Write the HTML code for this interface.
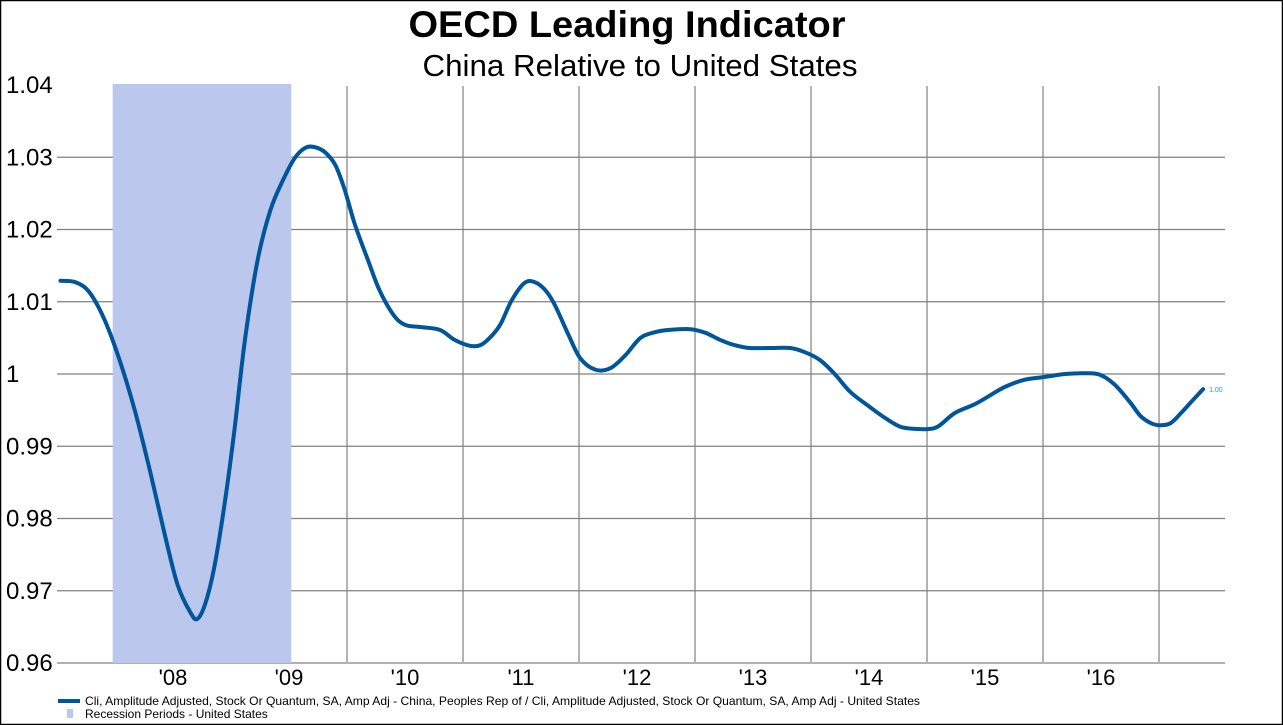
<!DOCTYPE html>
<html><head><meta charset="utf-8"><style>
body{margin:0;background:#fff}
svg{display:block;font-family:"Liberation Sans",Arial,sans-serif}
</style></head><body>
<svg id="chart" width="1283" height="725">
<rect x="0.5" y="0.5" width="1282" height="724" fill="#fff" stroke="#000" stroke-width="1.5"/>
<text x="627" y="37" text-anchor="middle" font-size="37" font-weight="bold" textLength="437" lengthAdjust="spacingAndGlyphs">OECD Leading Indicator</text>
<text x="640" y="76" text-anchor="middle" font-size="31" textLength="435" lengthAdjust="spacingAndGlyphs">China Relative to United States</text>
<g id="grid"></g>
<g id="rec"></g>
<g id="yt"></g>
<g id="xt"></g>
<g id="series"></g>
<g>
<rect x="58" y="699" width="22" height="4" fill="#00559b"/>
<text x="85" y="705" font-size="12" textLength="835" lengthAdjust="spacingAndGlyphs">Cli, Amplitude Adjusted, Stock Or Quantum, SA, Amp Adj - China, Peoples Rep of / Cli, Amplitude Adjusted, Stock Or Quantum, SA, Amp Adj - United States</text>
<rect x="67" y="709" width="6" height="9" fill="#bbc7ec"/>
<text x="85" y="718" font-size="12">Recession Periods - United States</text>
</g>
</svg>
<script>
const dates=[2007.53,2007.66,2007.78,2007.91,2008.04,2008.17,2008.30,2008.43,2008.54,2008.65,2008.71,2008.78,2008.86,2008.95,2009.03,2009.12,2009.23,2009.34,2009.45,2009.55,2009.64,2009.72,2009.81,2009.90,2009.98,2010.07,2010.18,2010.28,2010.40,2010.50,2010.63,2010.80,2010.93,2011.06,2011.15,2011.23,2011.32,2011.42,2011.53,2011.62,2011.71,2011.79,2011.91,2012.01,2012.14,2012.27,2012.40,2012.53,2012.66,2012.78,2012.96,2013.09,2013.22,2013.34,2013.47,2013.65,2013.82,2013.95,2014.08,2014.21,2014.34,2014.51,2014.64,2014.77,2014.90,2015.03,2015.11,2015.24,2015.41,2015.54,2015.67,2015.84,2016.02,2016.19,2016.36,2016.49,2016.62,2016.75,2016.84,2016.93,2017.01,2017.10,2017.19,2017.27,2017.38];
const values=[1.0129,1.0127,1.0113,1.0075,1.0019,0.9950,0.9867,0.9777,0.9708,0.9670,0.9661,0.9683,0.9736,0.9826,0.9923,1.0047,1.0158,1.0227,1.0269,1.0299,1.0313,1.0314,1.0307,1.0289,1.0255,1.0206,1.0158,1.0116,1.0082,1.0068,1.0065,1.0061,1.0047,1.0039,1.0040,1.0050,1.0068,1.0102,1.0126,1.0127,1.0116,1.0096,1.0054,1.0022,1.0006,1.0008,1.0026,1.0050,1.0058,1.0061,1.0062,1.0057,1.0047,1.0040,1.0036,1.0036,1.0036,1.0030,1.0019,0.9999,0.9975,0.9954,0.9939,0.9927,0.9924,0.9924,0.9929,0.9946,0.9958,0.9970,0.9982,0.9992,0.9996,1.0000,1.0001,0.9999,0.9985,0.9961,0.9942,0.9932,0.9929,0.9932,0.9946,0.9960,0.9979];
const yTicks=[1.04,1.03,1.02,1.01,1,0.99,0.98,0.97,0.96];
const yTickLabels=["1.04","1.03","1.02","1.01","1","0.99","0.98","0.97","0.96"];
const xYears=[2008,2009,2010,2011,2012,2013,2014,2015,2016];
const xLabels=["'08","'09","'10","'11","'12","'13","'14","'15","'16"];
const gridYears=[2010,2011,2012,2013,2014,2015,2016,2017];
const recStart=[2007.98];
const recEnd=[2009.52];
const lastLabel="1.00";
const NS="http://www.w3.org/2000/svg";
const X=t=>115+(t-2008)*116;
const Y=v=>85+(1.04-v)*7225;
function mk(tag,attrs,parent){const e=document.createElementNS(NS,tag);for(const k in attrs)e.setAttribute(k,attrs[k]);parent.appendChild(e);return e;}
const grid=document.getElementById('grid');
yTicks.forEach((v,i)=>{if(i===0)return;
 const l=mk('line',{x1:57,x2:1225,y1:Y(v),y2:Y(v),stroke:'#808080','stroke-width':1.2},grid);
 
 });
gridYears.forEach(t=>{
 const l=mk('line',{x1:X(t),x2:X(t),y1:86,y2:662,stroke:'#808080','stroke-width':1.2},grid);
 
 });
const rec=document.getElementById('rec');
recStart.forEach((s,i)=>{
 const r=mk('rect',{x:X(s),y:84,width:X(recEnd[i])-X(s),height:579,fill:'#bbc7ec'},rec);
 
 });
const yt=document.getElementById('yt');
yTicks.forEach((v,i)=>{
 const t=mk('text',{x:6,y:Y(v)+8,'font-size':24},yt);t.textContent=yTickLabels[i];
 
 });
const xt=document.getElementById('xt');
xYears.forEach((y,i)=>{
 const t=mk('text',{x:X(y+0.5),y:685,'font-size':22,'text-anchor':'middle'},xt);t.textContent=xLabels[i];
 
 });
const pts=dates.map((d,i)=>[X(d),Y(values[i])]);
let d='M'+pts[0][0]+','+pts[0][1];
for(let i=0;i<pts.length-1;i++){
 const p0=pts[Math.max(0,i-1)],p1=pts[i],p2=pts[i+1],p3=pts[Math.min(pts.length-1,i+2)];
 const c1=[p1[0]+(p2[0]-p0[0])/6,p1[1]+(p2[1]-p0[1])/6],c2=[p2[0]-(p3[0]-p1[0])/6,p2[1]-(p3[1]-p1[1])/6];
 d+=`C${c1[0]},${c1[1]} ${c2[0]},${c2[1]} ${p2[0]},${p2[1]}`;}
const s=document.getElementById('series');
const path=mk('path',{d:d,fill:'none',stroke:'#00559b','stroke-width':4,'stroke-linejoin':'round','stroke-linecap':'round'},s);


const lp=pts[pts.length-1];
const lt=mk('text',{x:lp[0]+6,y:lp[1]+3,'font-size':7,fill:'#1e90ff'},s);lt.textContent=lastLabel;


</script>
</body></html>
